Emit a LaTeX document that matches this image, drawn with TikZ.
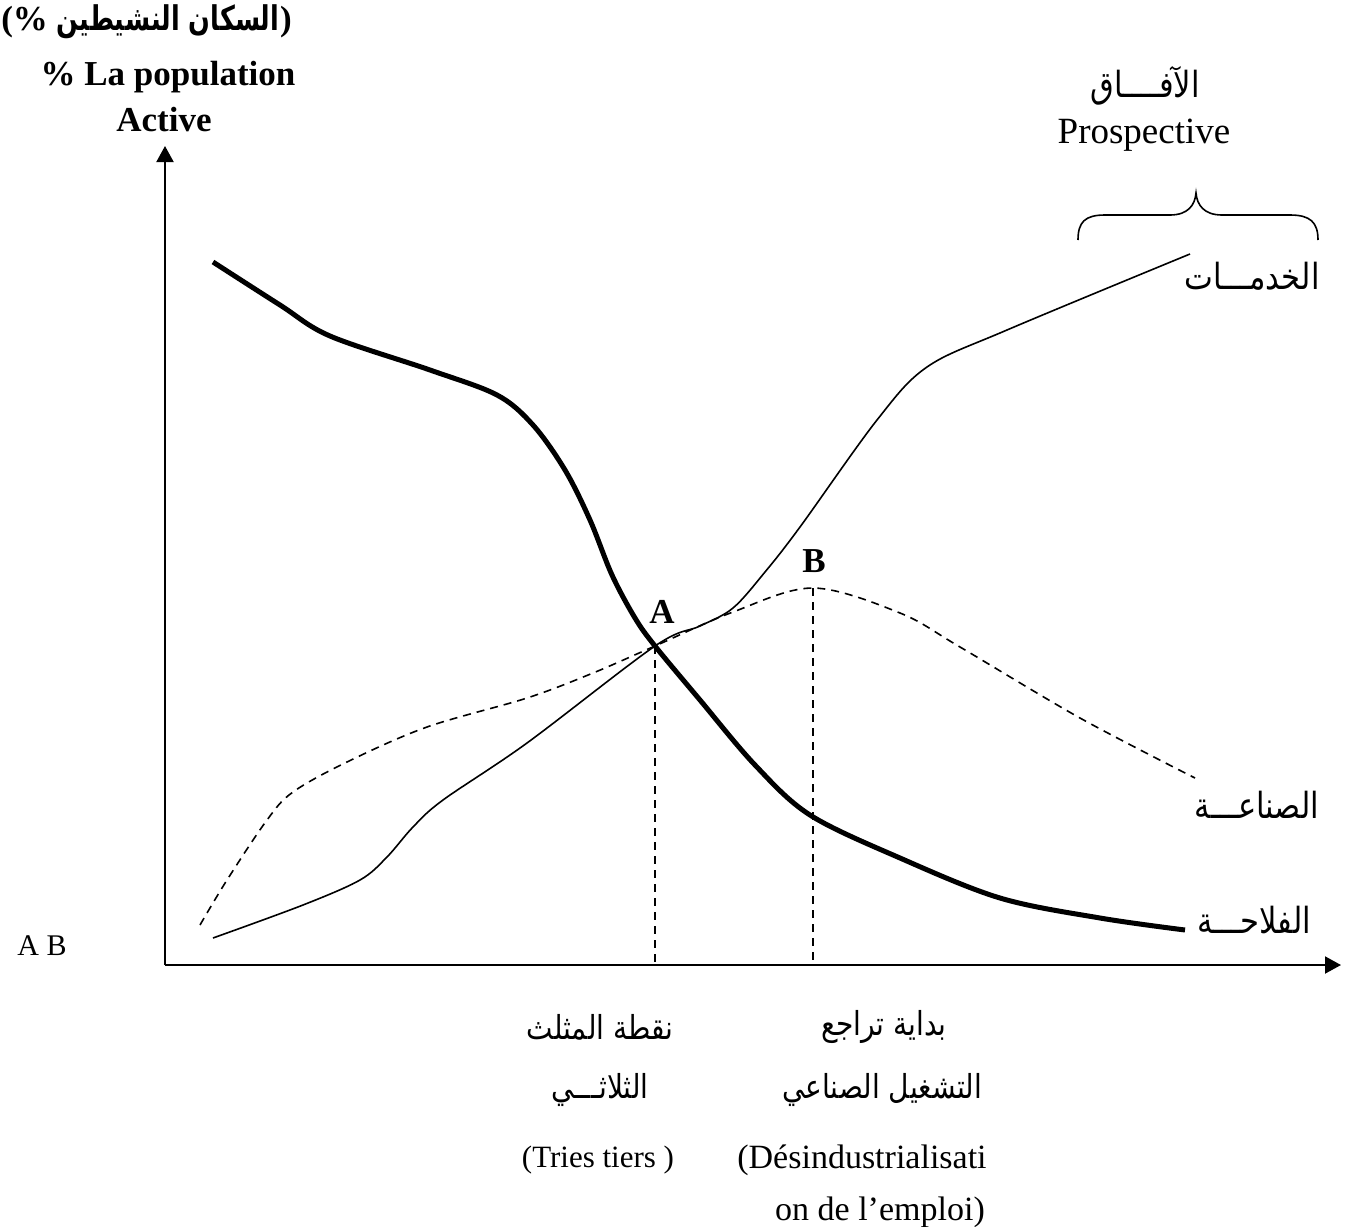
\documentclass[tikz,border=0pt]{standalone}
\usepackage{fontspec}
\setmainfont{Liberation Serif}
\newfontfamily\arabicfont[Script=Arabic,FakeStretch=0.85]{DejaVu Sans}
\newfontfamily\arabicnarrow[Script=Arabic,FakeStretch=0.75]{DejaVu Sans}
\TeXXeTstate=1
\usetikzlibrary{arrows.meta}
\begin{document}
\begin{tikzpicture}[x=0.5pt,y=-0.5pt,
  axis/.style={line width=1pt,-{Triangle[length=8pt,width=8.5pt]}},
  agri/.style={line width=2.5pt},
  serv/.style={line width=0.8pt},
  indu/.style={line width=0.8pt,dash pattern=on 4pt off 3pt},
  guide/.style={line width=0.8pt,dash pattern=on 4pt off 3pt},
  lat/.style={inner sep=0pt,font=\fontsize{17}{20}\selectfont},
  latb/.style={inner sep=0pt,font=\bfseries\fontsize{17.5}{20}\selectfont},
  ar/.style={inner sep=0pt,font=\arabicfont\fontsize{18}{22}\selectfont},
  arsm/.style={inner sep=0pt,font=\arabicfont\fontsize{16.5}{20}\selectfont},
  arbold/.style={inner sep=0pt,font=\arabicnarrow\bfseries\fontsize{17}{20}\selectfont}
]
\useasboundingbox (0,0) rectangle (1345,1227);

% axes
\coordinate (O) at (165,965);
\coordinate (Ytip) at (165,146);
\coordinate (Xtip) at (1341,965);
\draw[axis] (O) -- (Ytip);
\draw[axis] (O) -- (Xtip);

% key points
\coordinate (A) at (655,646);
\coordinate (B) at (813,588);
\coordinate (Abase) at (655,965);
\coordinate (Bbase) at (813,965);

% agriculture
\draw[agri] plot[smooth,tension=0.55] coordinates {(213,262) (280,305) (330,336) (430,370) (497,395) (533,425) (565,470) (590,520) (612,575) (635,618) (A) (700,700) (755,765) (810,815) (900,858) (1000,898) (1100,918) (1185,930)};

% industry
\draw[indu] plot[smooth,tension=0.55] coordinates {(200,925) (227,880) (267,820) (293,792) (347,762) (427,727) (527,698) (593,673) (A) (733,612) (B) (900,613) (960,647) (1080,718) (1195,778)};

% services
\draw[serv] plot[smooth,tension=0.55] coordinates {(213,938) (303,905) (360,880) (387,857) (413,827) (443,800) (527,743) (A) (700,626) (733,608) (765,572) (800,527) (877,420) (927,367) (1007,330) (1190,254)};

% projections on the time axis
\draw[guide] (A) -- (Abase);
\draw[guide] (B) -- (Bbase);

% brace over the prospective period
\draw[line width=0.8pt] (1078,240) .. controls (1078,222) and (1085,215) .. (1105,215) -- (1170,215) .. controls (1188,215) and (1195,205) .. (1196,193) .. controls (1197,205) and (1204,215) .. (1222,215) -- (1290,215) .. controls (1310,215) and (1318,222) .. (1318,240);

% labels
\node[latb] (lA) at (662,612) {A};
\node[latb] (lB) at (814,561) {B};
\node[lat,font=\fontsize{15}{18}\selectfont] (lAB) at (42,946) {A B};

% y-axis title: Arabic line built from three pieces
\node[arbold] (yar) at (168,22) {\beginR السكان النشيطين\endR};
\node[latb,anchor=east] (yopen) at ([xshift=-4pt]yar.west) {(\%};
\node[latb,anchor=west] (yclose) at (yar.east) {)};
\node[latb] (ylat) at (168,77) {\% La population};
\node[latb] (yact) at (164,120) {Active};

\node[ar] (prosar) at (1145,86) {\beginR الآفــــاق\endR};
\node[lat,font=\fontsize{18.5}{22}\selectfont] (pros) at (1144,135) {Prospective};

\node[ar] (serv) at (1252,276) {\beginR الخدمـــات\endR};
\node[ar] (indu) at (1257,805) {\beginR الصناعـــة\endR};
\node[ar] (agri) at (1254,920) {\beginR الفلاحـــة\endR};

\node[arsm] (ta1) at (600,1027) {\beginR نقطة المثلث\endR};
\node[arsm] (ta2) at (600,1090) {\beginR الثلاثـــي\endR};
\node[lat,font=\fontsize{15.5}{18}\selectfont] (ta3) at (598,1160) {(Tries tiers )};

\node[arsm] (tb1) at (884,1027) {\beginR بداية تراجع\endR};
\node[arsm] (tb2) at (882,1090) {\beginR التشغيل الصناعي\endR};
\node[lat] (tb3) at (862,1160) {(Désindustrialisati};
\node[lat] (tb4) at (880,1212) {on de l’emploi)};
\end{tikzpicture}
\end{document}
